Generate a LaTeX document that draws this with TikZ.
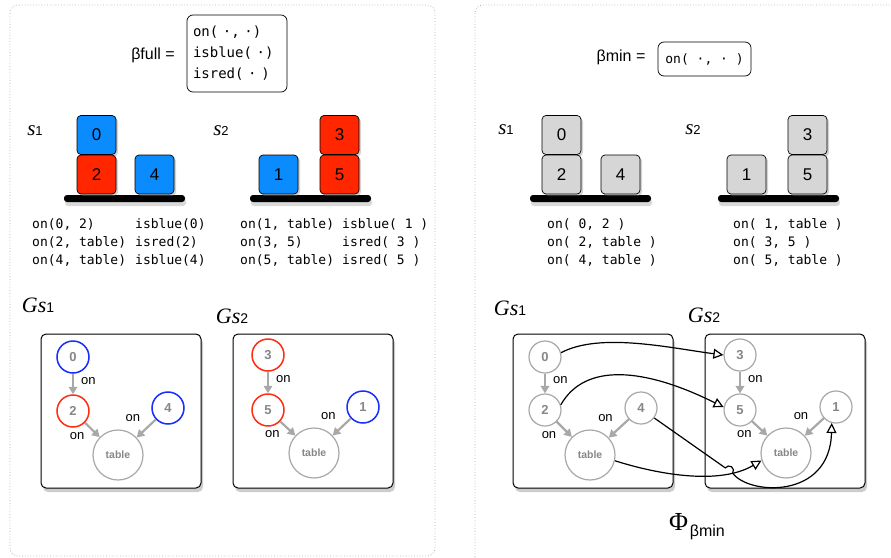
\documentclass[tikz,border=0pt]{standalone}
\usepackage{fontspec}
\setmainfont{Liberation Sans}
\setsansfont{Liberation Sans}
\setmonofont{DejaVu Sans Mono}
\newfontfamily\serifface{Liberation Serif}
\usetikzlibrary{arrows.meta,shadows}
\definecolor{blockblue}{RGB}{10,140,255}
\definecolor{blockred}{RGB}{255,38,0}
\definecolor{ringblue}{RGB}{25,45,255}
\definecolor{ringred}{RGB}{255,45,20}
\definecolor{blockgray}{RGB}{214,214,214}
\definecolor{nodegray}{RGB}{168,168,168}
\definecolor{labelgray}{RGB}{135,135,135}
\newcommand{\slabel}[1]{{\serifface\itshape\fontsize{21}{21}\selectfont s}{\fontsize{13}{13}\selectfont #1}}
\newcommand{\glabel}[1]{{\serifface\itshape\fontsize{22}{22}\selectfont Gs}{\fontsize{14}{14}\selectfont #1}}
\begin{document}
\begin{tikzpicture}[x=1pt,y=1pt,
  panel/.style={draw=gray!60,dotted,line width=0.8pt,rounded corners=8pt},
  predbox/.style={draw=black,rounded corners=6pt,line width=0.7pt,font=\ttfamily\fontsize{13}{21}\selectfont},
  block/.style={draw=black,rounded corners=4pt,minimum size=39pt,inner sep=0pt,line width=0.7pt,font=\fontsize{17}{17}\selectfont,drop shadow={opacity=0.35,shadow xshift=2pt,shadow yshift=-2pt}},
  tablebar/.style={fill=black,rounded corners=3pt,minimum width=121pt,minimum height=7pt,inner sep=0pt,drop shadow={opacity=0.3,shadow xshift=1pt,shadow yshift=-4pt}},
  facts/.style={anchor=north west,inner sep=0pt,align=left,font=\ttfamily\fontsize{13}{18}\selectfont},
  gbox/.style={draw=black,rounded corners=5pt,line width=1pt,fill=white,minimum width=160pt,minimum height=154pt,drop shadow={opacity=0.4,shadow xshift=2pt,shadow yshift=-4pt}},
  gnode/.style={circle,draw=nodegray,line width=1.2pt,minimum size=32pt,inner sep=0pt,text=labelgray,font=\bfseries\fontsize{13}{13}\selectfont},
  bluenode/.style={gnode,draw=ringblue,line width=1.5pt},
  rednode/.style={gnode,draw=ringred,line width=1.5pt},
  tablenode/.style={gnode,minimum size=50pt,font=\bfseries\fontsize{10.5}{10.5}\selectfont},
  onedge/.style={draw=nodegray,line width=2.2pt,-{Triangle[width=8.5pt,length=7.5pt]}},
  onlabel/.style={font=\fontsize{13}{13}\selectfont,inner sep=1pt},
  maparrow/.style={draw=black,line width=1.2pt,-{Triangle[open,fill=white,width=10pt,length=10pt]}}
]
\clip (0,0) rectangle (891,-557);

\draw[panel] (10,-5) rectangle (435,-556);
\draw[panel] (475,-5) rectangle (905,-570);

\node[font=\fontsize{16}{16}\selectfont] (fulllabel) at (153,-55) {βfull =};
\node[predbox,align=left,text width=88pt,minimum height=77pt,inner xsep=6pt,font=\ttfamily\fontsize{14}{21}\selectfont] (fullbox) at (237,-53.5) {on( ·, ·)\\isblue( ·)\\isred( · )};
\node[font=\fontsize{16}{16}\selectfont] (minlabel) at (621,-57) {βmin =};
\node[predbox,minimum width=93pt,minimum height=34pt] (minbox) at (704.5,-59) {on( ·, · )};

\node (ls1) at (35,-131) {\slabel{1}};
\node (ls2) at (221,-131) {\slabel{2}};
\node (rs1) at (506,-130) {\slabel{1}};
\node (rs2) at (693,-130) {\slabel{2}};

\node[tablebar] (lbar1) at (124.5,-198.5) {};
\node[block,fill=blockblue] (lb0) at (96.5,-135) {0};
\node[block,fill=blockred] (lb2) at (96.5,-174.5) {2};
\node[block,fill=blockblue] (lb4) at (154.5,-174.5) {4};
\node[tablebar] (lbar2) at (310.5,-198.5) {};
\node[block,fill=blockblue] (lb1) at (278.5,-174.5) {1};
\node[block,fill=blockred] (lb3) at (339.5,-135) {3};
\node[block,fill=blockred] (lb5) at (339.5,-174.5) {5};

\node[tablebar] (rbar1) at (590.5,-198.5) {};
\node[block,fill=blockgray] (rb0) at (561.5,-135) {0};
\node[block,fill=blockgray] (rb2) at (561.5,-174.5) {2};
\node[block,fill=blockgray] (rb4) at (620.5,-174.5) {4};
\node[tablebar] (rbar2) at (778.5,-198.5) {};
\node[block,fill=blockgray] (rb1) at (746.5,-174.5) {1};
\node[block,fill=blockgray] (rb3) at (807.5,-135) {3};
\node[block,fill=blockgray] (rb5) at (807.5,-174.5) {5};

\node[facts] (lf1a) at (32,-218) {on(0, 2)\\on(2, table)\\on(4, table)};
\node[facts] (lf1b) at (135,-218) {isblue(0)\\isred(2)\\isblue(4)};
\node[facts] (lf2a) at (240,-218) {on(1, table)\\on(3, 5)\\on(5, table)};
\node[facts] (lf2b) at (342,-218) {isblue( 1 )\\isred( 3 )\\isred( 5 )};
\node[facts] (rf1) at (547,-218) {on( 0, 2 )\\on( 2, table )\\on( 4, table )};
\node[facts] (rf2) at (733,-218) {on( 1, table )\\on( 3, 5 )\\on( 5, table )};

\node (lg1) at (38,-305) {\glabel{1}};
\node (lg2) at (232,-316) {\glabel{2}};
\node (rg1) at (510,-308) {\glabel{1}};
\node (rg2) at (704,-315) {\glabel{2}};

\node[gbox] (lbox1) at (121,-411) {};
\node[gbox] (lbox2) at (313,-411) {};
\node[gbox] (rbox1) at (593,-411) {};
\node[gbox] (rbox2) at (785,-411) {};

\node[bluenode] (l1n0) at (73,-357) {0};
\node[rednode] (l1n2) at (73,-411) {2};
\node[bluenode] (l1n4) at (168,-408) {4};
\node[tablenode] (l1tab) at (118,-455) {table};
\draw[onedge] (l1n0) -- node[onlabel,right=6pt,pos=0.35] {on} (l1n2);
\draw[onedge] (l1n2) -- node[onlabel,below left,xshift=-6pt] {on} (l1tab);
\draw[onedge] (l1n4) -- node[onlabel,above left,xshift=-4pt,yshift=5pt] {on} (l1tab);

\node[rednode] (l2n3) at (268,-355) {3};
\node[rednode] (l2n5) at (268,-410) {5};
\node[bluenode] (l2n1) at (363,-407) {1};
\node[tablenode] (l2tab) at (314,-453) {table};
\draw[onedge] (l2n3) -- node[onlabel,right=6pt,pos=0.35] {on} (l2n5);
\draw[onedge] (l2n5) -- node[onlabel,below left,xshift=-6pt] {on} (l2tab);
\draw[onedge] (l2n1) -- node[onlabel,above left,xshift=-4pt,yshift=5pt] {on} (l2tab);

\node[gnode] (r1n0) at (545,-357) {0};
\node[gnode] (r1n2) at (545,-410) {2};
\node[gnode] (r1n4) at (641,-408) {4};
\node[tablenode] (r1tab) at (590,-455) {table};
\draw[onedge] (r1n0) -- node[onlabel,right=6pt,pos=0.35] {on} (r1n2);
\draw[onedge] (r1n2) -- node[onlabel,below left,xshift=-6pt] {on} (r1tab);
\draw[onedge] (r1n4) -- node[onlabel,above left,xshift=-4pt,yshift=5pt] {on} (r1tab);

\node[gnode] (r2n3) at (740,-355) {3};
\node[gnode] (r2n5) at (740,-410) {5};
\node[gnode] (r2n1) at (836,-407) {1};
\node[tablenode] (r2tab) at (786,-453) {table};
\draw[onedge] (r2n3) -- node[onlabel,right=6pt,pos=0.35] {on} (r2n5);
\draw[onedge] (r2n5) -- node[onlabel,below left,xshift=-6pt] {on} (r2tab);
\draw[onedge] (r2n1) -- node[onlabel,above left,xshift=-4pt,yshift=5pt] {on} (r2tab);

\coordinate (jmpa) at (725.3,-467.9);
\draw[maparrow] (r1n0.15) .. controls (600,-332) and (670,-348) .. (r2n3.west);
\draw[maparrow] (r1n2.18) .. controls (585,-362) and (645,-368) .. (r2n5.170);
\draw[maparrow] (r1tab.-13) .. controls (660,-475) and (720,-485) .. (r2tab.197);
\draw[maparrow] (r1n4.-37) -- (jmpa) arc[start angle=145,end angle=-35,radius=4.5]
  .. controls (748,-495) and (830,-500) .. (r2n1.-105);

\node (phi) at (697,-527) {{\serifface\fontsize{26}{26}\selectfont Φ}\,\raisebox{-6pt}{\fontsize{16}{16}\selectfont βmin}};
\end{tikzpicture}
\end{document}
